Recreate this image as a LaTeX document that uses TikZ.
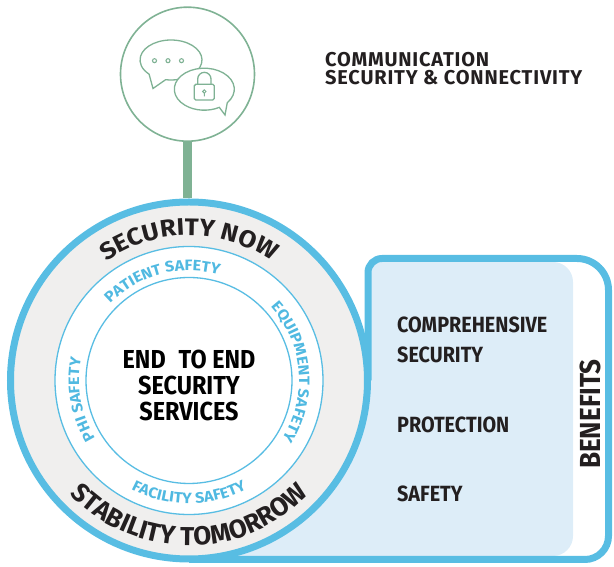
\documentclass[tikz,border=0pt]{standalone}
\usepackage{fontspec}
\setmainfont{Fira Sans}
\newfontfamily\condfont{Fira Sans}[FakeStretch=0.9]
\newfontfamily\widefont{Fira Sans}[FakeStretch=1.08]
\newfontfamily\titlefont{Fira Sans}[LetterSpace=4]
\usetikzlibrary{positioning,decorations.text}
\tikzset{>=latex}
\definecolor{ringblue}{RGB}{88,189,227}
\definecolor{panelblue}{RGB}{221,237,248}
\definecolor{ringgray}{RGB}{240,239,238}
\definecolor{icongreen}{RGB}{127,178,148}
\definecolor{textdark}{RGB}{35,31,32}
\definecolor{labelblue}{RGB}{80,185,225}
\newcommand\bandfont{\widefont\bfseries\fontsize{24}{24}\selectfont}
\newcommand\lowbandfont{\bfseries\fontsize{26}{26}\selectfont}
\newcommand\labelfont{\widefont\bfseries\fontsize{15}{15}\selectfont}

\begin{document}
\begin{tikzpicture}[x=1pt, y=1pt,
blueline/.style={draw=ringblue, line width=7pt},
thinring/.style={circle, draw=ringblue, line width=1.3pt, fill=white, inner sep=0pt},
iconline/.style={draw=icongreen, line width=1.3pt},
item/.style={anchor=base west, inner sep=0pt, text=textdark, font=\condfont\bfseries\fontsize{22}{22}\selectfont},
title/.style={anchor=base west, inner sep=0pt, text=textdark, font=\titlefont\bfseries\fontsize{20}{20}\selectfont}]
\useasboundingbox (0,0) rectangle (614,567);

% benefits panel
\fill[panelblue] (189,11) -- (553,11) arc[start angle=-90, end angle=0, radius=20] -- (573,285) arc[start angle=0, end angle=90, radius=20] -- (368,305) -- (368,186.5) -- (189,186.5) -- cycle;
\draw[blueline] (189,7.5) -- (585,7.5) arc[start angle=-90, end angle=0, radius=23.5] -- (608.5,277) arc[start angle=0, end angle=90, radius=31.5] -- (382,308.5) arc[start angle=90, end angle=180, radius=14] -- (368,186.5);

% rings
\node[circle, draw=ringblue, fill=ringgray, line width=7pt, minimum size=357pt, inner sep=0pt] (ring) at (189,186.5) {};
\node[thinring, minimum size=268pt] (band) at (ring.center) {};
\node[thinring, minimum size=206pt] (core) at (ring.center) {};

% icon
\node[circle, iconline, line width=1.6pt, minimum size=134pt, inner sep=0pt] (icon) at (187.5,492.8) {};
\draw[draw=icongreen, line width=9pt] (icon.south) -- (icon.south |- ring.north);
\draw[iconline, fill=white] (171,507) ++(260:31 and 20) arc[start angle=260, end angle=585, x radius=31, y radius=20] -- (153,478.5) -- cycle;
\foreach \x in {154.5,168,181.5}
  \draw[iconline, line width=1.1pt] (\x,506.3) circle (2);
\draw[iconline, fill=white] (204.3,477.8) ++(320:30 and 21) arc[start angle=320, end angle=660, x radius=30, y radius=21] -- (225,452) -- cycle;
\draw[iconline, rounded corners=1.5pt] (194.3,467) rectangle (214.3,482.7);
\draw[iconline] (197.7,482.7) -- (197.7,488) arc[start angle=180, end angle=0, radius=6.65] -- (211,482.7);
\draw[iconline, line width=1pt] (204.3,475.5) circle (1.7) (204.3,473.8) -- (204.3,470.5);

% texts on the rings
\path[decorate, decoration={text along path, text align=center, text={|\bandfont\color{textdark}|SECURITY NOW}}] (ring.center) ++(180:145) arc[start angle=180, end angle=0, radius=145];
\path[decorate, decoration={text along path, text align=center, text={|\lowbandfont\color{textdark}|STABILITY TOMORROW}}] (ring.center) ++(180:165) arc[start angle=180, end angle=360, radius=165];
\path[decorate, decoration={text along path, text align=center, text={|\labelfont\color{labelblue}|PATIENT SAFETY}}] (ring.center) ++(195:110) arc[start angle=195, end angle=15, radius=110];
\path[decorate, decoration={text along path, text align=center, text={|\labelfont\color{labelblue}|EQUIPMENT SAFETY}}] (ring.center) ++(95:110) arc[start angle=95, end angle=-85, radius=110];
\path[decorate, decoration={text along path, text align=center, text={|\labelfont\color{labelblue}|PHI SAFETY}}] (ring.center) ++(280:110) arc[start angle=280, end angle=100, radius=110];
\path[decorate, decoration={text along path, text align=center, text={|\labelfont\color{labelblue}|FACILITY SAFETY}}] (ring.center) ++(180:123) arc[start angle=180, end angle=360, radius=123];

\node[align=center, inner sep=0pt, text=black, font=\condfont\bfseries\fontsize{26}{26}\selectfont] (e2e) at (189,182) {END\enspace TO END\\SECURITY\\SERVICES};

% titles and benefits
\node[title] (comm) at (325,500.3) {COMMUNICATION};
\node[title] (conn) at (325,482) {SECURITY \& CONNECTIVITY};
\node[item] (comp) at (397,234) {COMPREHENSIVE};
\node[item] (sec) at (397,204) {SECURITY};
\node[item] (prot) at (397,134) {PROTECTION};
\node[item] (safe) at (397,65) {SAFETY};
\node[rotate=90, inner sep=0pt, text=textdark, font=\condfont\bfseries\fontsize{29}{29}\selectfont] (benefits) at (590,153) {BENEFITS};
\end{tikzpicture}
\end{document}
